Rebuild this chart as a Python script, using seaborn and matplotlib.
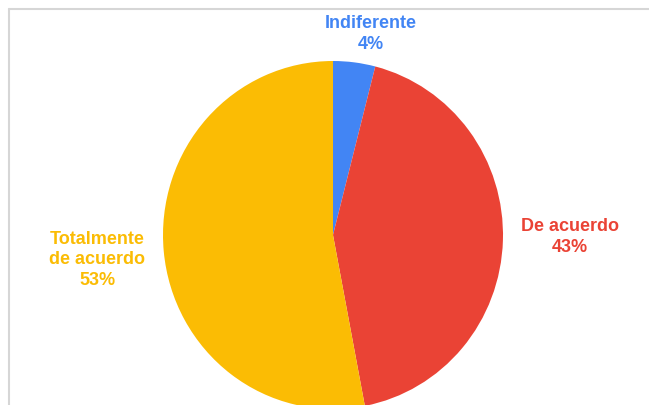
import matplotlib
matplotlib.use("Agg")
import matplotlib.pyplot as plt
from matplotlib.lines import Line2D
import seaborn as sns
import numpy as np

# Survey answers and their share of responses (%)
categories = ["Indiferente", "De acuerdo", "Totalmente\nde acuerdo"]
shares = [4, 43, 53]
colors = ["#4285F4", "#EA4335", "#FBBC04"]

sns.set_theme(style="white")
plt.rcParams["font.family"] = ["Liberation Sans", "DejaVu Sans"]

W, H = 649, 406
fig = plt.figure(figsize=(W / 100, H / 100), dpi=100)
fig.patch.set_facecolor("white")
ax = fig.add_axes([0, 0, 1, 1])

# pie centred at pixel (333, 236); slightly stretched vertically
cx, cy_pix, r = 333, 236, 170
k = 174 / 170  # vertical stretch of the chart area
wedges, _ = ax.pie(
    shares,
    colors=colors,
    startangle=90,
    counterclock=False,
    radius=r,
    center=(cx, 0),
    wedgeprops=dict(linewidth=0),
)
ax.set_aspect("auto")
ax.set_xlim(0, W)
ax.set_ylim(-(H - cy_pix) / k, cy_pix / k)
ax.axis("off")


def to_y(ypix):
    return (cy_pix - ypix) / k


# outside labels with category name and percentage
label_pos = [(371, 34), (570, 237), (97, 260)]
for name, val, col, (lx, ly) in zip(categories, shares, colors, label_pos):
    ax.text(lx, to_y(ly), f"{name}\n{val}%", color=col, fontsize=13,
            fontweight="bold", ha="center", va="center",
            linespacing=1.25)

# thin frame lines along the top and left edges
fig.add_artist(Line2D([9 / W, 1], [1 - 10 / H, 1 - 10 / H],
                      transform=fig.transFigure, color="#d6d6d6", lw=1.5))
fig.add_artist(Line2D([9 / W, 9 / W], [0, 1 - 10 / H],
                      transform=fig.transFigure, color="#d6d6d6", lw=1.5))

fig.savefig("out.png", dpi=100, facecolor="white")
